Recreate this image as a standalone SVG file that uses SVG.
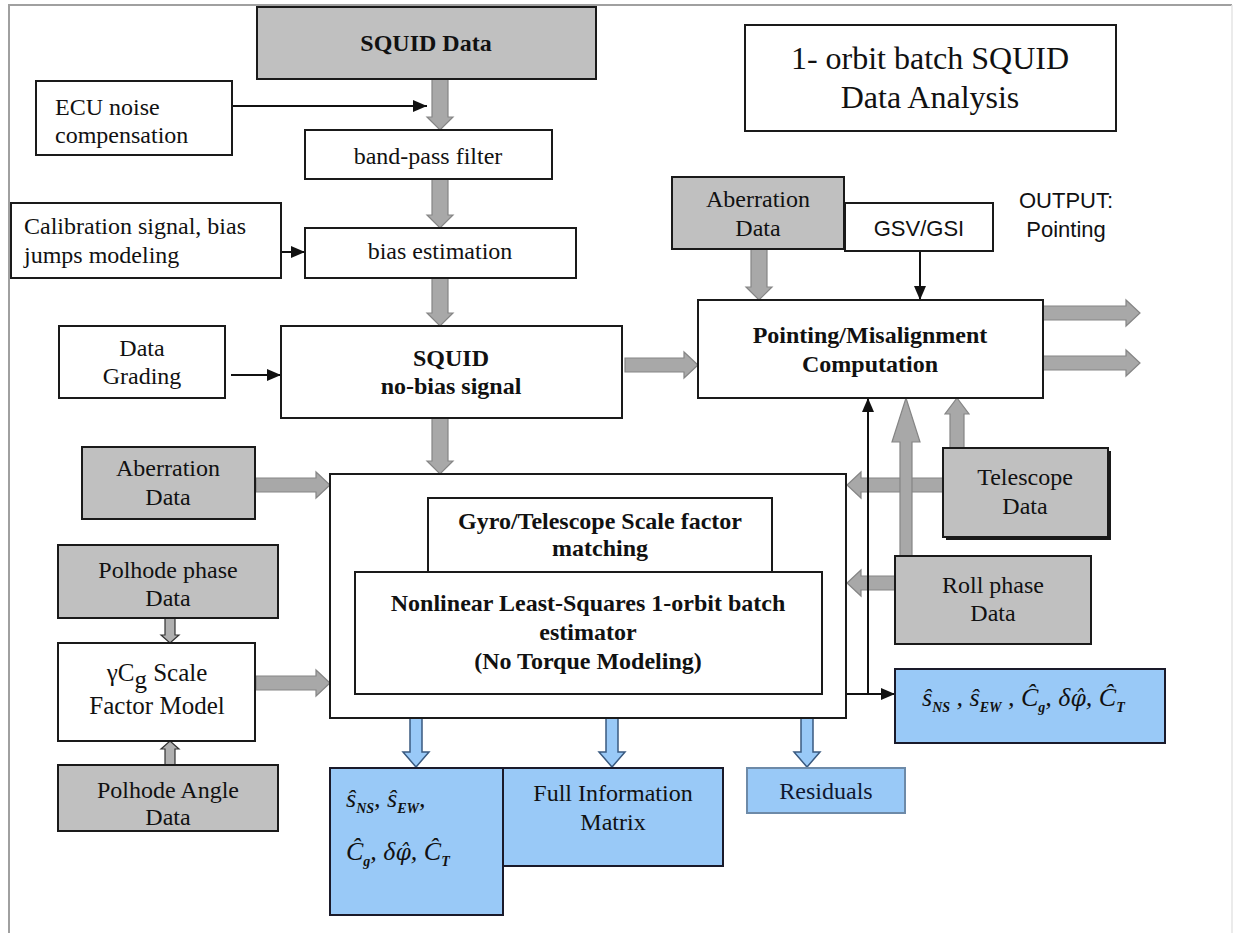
<svg xmlns="http://www.w3.org/2000/svg" width="1235" height="933" viewBox="0 0 1235 933">
<style>
.box{fill:#ffffff;stroke:#1a1a1a;stroke-width:2}
.gray{fill:#c0c0c0;stroke:#1a1a1a;stroke-width:2}
.blue{fill:#99c9f7;stroke:#1a1a2a;stroke-width:2}
.blue2{fill:#99c9f7;stroke:#6d8aa8;stroke-width:2}
.t{font-family:"Liberation Serif","Times New Roman",serif;font-size:24px;fill:#111;text-anchor:middle}
.l{text-anchor:start}
.b{font-weight:bold}
.title{font-size:32px}
.sans{font-family:"Liberation Sans",Arial,sans-serif;font-size:22px;fill:#111;text-anchor:middle}
.math{font-family:"Liberation Serif","Times New Roman",serif;font-size:26px;font-style:italic;fill:#111}
.phi{font-family:"DejaVu Serif",serif;font-size:22px}
.sub{font-size:14px;font-weight:bold}
.ga{fill:#a8a8a8;stroke:#858585;stroke-width:1.2}
.pa{fill:#b0b0b0;stroke:#333;stroke-width:1.2}
.ba{fill:#99c9f7;stroke:#3a5a80;stroke-width:1.5}
.la{stroke:#111;stroke-width:2;fill:none;marker-end:url(#ah)}
</style>
<defs>
<marker id="ah" viewBox="0 0 14 12" refX="14" refY="6" markerWidth="14" markerHeight="12" markerUnits="userSpaceOnUse" orient="auto">
<path d="M0,0 L14,6 L0,12 z" fill="#111"/>
</marker>
</defs>
<rect width="1235" height="933" fill="#ffffff"/>
<g id="frame">
<path d="M9,933 L9,5 L1232,5" fill="none" stroke="#a0a0a0" stroke-width="2"/>
<path d="M1232,5 L1232,933" fill="none" stroke="#e4e4e4" stroke-width="1.5"/>
</g>

<g id="connectors">
<polygon class="ga" points="432,79 448,79 448,117 453,117 440,130 427,117 432,117"/>
<polygon class="ga" points="432,179 448,179 448,215 453,215 440,228 427,215 432,215"/>
<polygon class="ga" points="432,278 448,278 448,313 453,313 440,326 427,313 432,313"/>
<polygon class="ga" points="432,418 448,418 448,461 453,461 440,474 427,461 432,461"/>
<polygon class="ga" points="751,249 767,249 767,287 772,287 759,300 746,287 751,287"/>
<polygon class="ga" points="625,358 684,358 684,352 698,365 684,378 684,372 625,372"/>
<polygon class="ga" points="256,478 316,478 316,472 330,485 316,498 316,492 256,492"/>
<polygon class="ga" points="256,676 316,676 316,670 330,683 316,696 316,690 256,690"/>
<polygon class="ga" points="1043,306 1126,306 1126,300 1140,313 1126,326 1126,320 1043,320"/>
<polygon class="ga" points="1043,356 1126,356 1126,350 1140,363 1126,376 1126,370 1043,370"/>
<polygon class="ga" points="943,478 861,478 861,472 847,485 861,498 861,492 943,492"/>
<polygon class="ga" points="895,576 861,576 861,570 847,583 861,596 861,590 895,590"/>
<polygon class="ga" points="900,556 912,556 912,442 920,442 906,398 892,442 900,442"/>
<polygon class="ga" points="950,448 964,448 964,414 969,414 957,398 945,414 950,414"/>
<polygon class="pa" points="165,618 175,618 175,635 179,635 170,643 161,635 165,635"/>
<polygon class="pa" points="165,765 175,765 175,749 179,749 170,741 161,749 165,749"/>
<polygon class="ba" points="410,718 422,718 422,752 429,752 416,767 403,752 410,752"/>
<polygon class="ba" points="606,718 618,718 618,752 625,752 612,767 599,752 606,752"/>
<polygon class="ba" points="801,718 813,718 813,752 820,752 807,767 794,752 801,752"/>
<line class="la" x1="232" y1="106" x2="427" y2="106"/>
<line class="la" x1="281" y1="252" x2="305" y2="252"/>
<line class="la" x1="231" y1="375" x2="281" y2="375"/>
<line class="la" x1="920" y1="251" x2="920" y2="300"/>
<line class="la" x1="868" y1="694" x2="868" y2="398"/>
<line class="la" x1="846" y1="694" x2="895" y2="694"/>
</g>

<g id="squid-data">
<rect class="gray" x="257" y="7" width="339" height="72"/>
<text class="t b" x="426" y="51">SQUID Data</text>
</g>
<g id="title">
<rect class="box" x="745" y="25" width="371" height="106"/>
<text class="t title" x="930" y="69">1- orbit batch SQUID</text>
<text class="t title" x="930" y="108">Data Analysis</text>
</g>
<g id="ecu">
<rect class="box" x="36" y="81" width="196" height="74"/>
<text class="t l" x="55" y="115">ECU noise</text>
<text class="t l" x="55" y="143">compensation</text>
</g>
<g id="bandpass">
<rect class="box" x="305" y="130" width="247" height="49"/>
<text class="t" x="428" y="164">band-pass filter</text>
</g>
<g id="calibration">
<rect class="box" x="11" y="203" width="270" height="75"/>
<text class="t l" x="24" y="234">Calibration signal, bias</text>
<text class="t l" x="24" y="263">jumps modeling</text>
</g>
<g id="bias">
<rect class="box" x="305" y="228" width="271" height="50"/>
<text class="t" x="440" y="259">bias estimation</text>
</g>
<g id="grading">
<rect class="box" x="59" y="326" width="166" height="72"/>
<text class="t" x="142" y="356">Data</text>
<text class="t" x="142" y="384">Grading</text>
</g>
<g id="nobias">
<rect class="box" x="281" y="326" width="341" height="92"/>
<text class="t b" x="451" y="366">SQUID</text>
<text class="t b" x="451" y="394">no-bias signal</text>
</g>
<g id="aberration-top">
<rect class="gray" x="672" y="177" width="172" height="72"/>
<text class="t" x="758" y="207">Aberration</text>
<text class="t" x="758" y="236">Data</text>
</g>
<g id="gsv">
<rect class="box" x="845" y="203" width="148" height="48"/>
<text class="sans" x="919" y="236">GSV/GSI</text>
</g>
<g id="output">
<text class="sans" x="1066" y="208">OUTPUT:</text>
<text class="sans" x="1066" y="237">Pointing</text>
</g>
<g id="pointing">
<rect class="box" x="698" y="300" width="345" height="98"/>
<text class="t b" x="870" y="343">Pointing/Misalignment</text>
<text class="t b" x="870" y="372">Computation</text>
</g>
<g id="aberration-left">
<rect class="gray" x="82" y="447" width="173" height="72"/>
<text class="t" x="168" y="476">Aberration</text>
<text class="t" x="168" y="505">Data</text>
</g>
<g id="telescope">
<rect x="946" y="451" width="165" height="89" fill="#1a1a1a"/>
<rect class="gray" x="943" y="448" width="165" height="89"/>
<text class="t" x="1025" y="485">Telescope</text>
<text class="t" x="1025" y="514">Data</text>
</g>
<g id="polhode-phase">
<rect class="gray" x="58" y="545" width="220" height="73"/>
<text class="t" x="168" y="578">Polhode phase</text>
<text class="t" x="168" y="606">Data</text>
</g>
<g id="roll">
<rect class="gray" x="895" y="556" width="196" height="88"/>
<text class="t" x="993" y="593">Roll phase</text>
<text class="t" x="993" y="621">Data</text>
</g>
<g id="estimator">
<rect class="box" x="330" y="474" width="516" height="244"/>
<rect class="box" x="428" y="498" width="344" height="74"/>
<text class="t b" x="600" y="529">Gyro/Telescope Scale factor</text>
<text class="t b" x="600" y="556">matching</text>
<rect class="box" x="355" y="572" width="467" height="122"/>
<text class="t b" x="588" y="611">Nonlinear Least-Squares 1-orbit batch</text>
<text class="t b" x="588" y="640">estimator</text>
<text class="t b" x="588" y="669">(No Torque Modeling)</text>
</g>
<g id="scale-model">
<rect class="box" x="58" y="643" width="197" height="98"/>
<text class="t" x="157" y="681" style="font-size:25px">γC<tspan dy="7">g</tspan><tspan dy="-7"> Scale</tspan></text>
<text class="t" x="157" y="714" style="font-size:25px">Factor Model</text>
</g>
<g id="polhode-angle">
<rect class="gray" x="58" y="765" width="220" height="66"/>
<text class="t" x="168" y="798">Polhode Angle</text>
<text class="t" x="168" y="825">Data</text>
</g>
<g id="params-right">
<rect class="blue" x="895" y="669" width="270" height="74"/>
<text class="math" x="922" y="706">ŝ<tspan class="sub" dy="6">NS</tspan><tspan dy="-6"> , ŝ</tspan><tspan class="sub" dy="6">EW</tspan><tspan dy="-6"> , Ĉ</tspan><tspan class="sub" dy="6">g</tspan><tspan dy="-6">, δ</tspan><tspan class="phi">φ̂</tspan><tspan>, Ĉ</tspan><tspan class="sub" dy="6">T</tspan></text>
</g>
<g id="params-left">
<rect class="blue" x="330" y="768" width="173" height="147"/>
<text class="math" x="346" y="807">ŝ<tspan class="sub" dy="6">NS</tspan><tspan dy="-6">, ŝ</tspan><tspan class="sub" dy="6">EW</tspan><tspan dy="-6">,</tspan></text>
<text class="math" x="346" y="860">Ĉ<tspan class="sub" dy="6">g</tspan><tspan dy="-6">, δ</tspan><tspan class="phi">φ̂</tspan><tspan>, Ĉ</tspan><tspan class="sub" dy="6">T</tspan></text>
</g>
<g id="info-matrix">
<rect class="blue" x="503" y="768" width="220" height="98"/>
<text class="t" x="613" y="801">Full Information</text>
<text class="t" x="613" y="830">Matrix</text>
</g>
<g id="residuals">
<rect class="blue2" x="747" y="768" width="158" height="45"/>
<text class="t" x="826" y="799" style="fill:#101830">Residuals</text>
</g>
</svg>
